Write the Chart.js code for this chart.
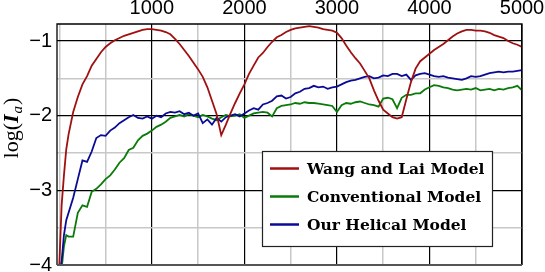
<!DOCTYPE html>
<html>
<head>
<meta charset="utf-8">
<script src="https://cdn.jsdelivr.net/npm/chart.js@4"></script>
<style>
    html, body { margin:0; padding:0; background:#fff; }
    #wrap { width:545px; height:272px; position:relative; }
</style>
</head>
<body>
<div id="wrap"><canvas id="chartIa"></canvas></div>
<script>

/* ---------- data ---------- */

const xValues = [
    0, 25, 50, 75, 100,
    150, 200, 250, 300, 350, 400, 450, 500, 550, 600,
    650, 700, 750, 800, 850, 900, 950, 1000, 1050, 1100,
    1150, 1200, 1250, 1300, 1350, 1400, 1450, 1500, 1550, 1600,
    1650, 1700, 1750, 1800, 1850, 1900, 1950, 2000, 2050, 2100,
    2150, 2200, 2250, 2300, 2350, 2400, 2450, 2500, 2550, 2600,
    2650, 2700, 2750, 2800, 2850, 2900, 2950, 3000, 3050, 3100,
    3150, 3200, 3250, 3300, 3350, 3400, 3450, 3500, 3550, 3600,
    3650, 3700, 3750, 3800, 3850, 3900, 3950, 4000, 4050, 4100,
    4150, 4200, 4250, 4300, 4350, 4400, 4450, 4500, 4550, 4600,
    4650, 4700, 4750, 4800, 4850, 4900, 4950, 5000
];

const wangLai = [
    -4.0, -3.2, -2.8, -2.45, -2.25,
    -1.95, -1.75, -1.58, -1.47, -1.33, -1.24, -1.15, -1.08, -1.03, -0.99,
    -0.96, -0.93, -0.91, -0.89, -0.87, -0.85, -0.84, -0.84, -0.85, -0.86,
    -0.88, -0.91, -0.97, -1.04, -1.12, -1.20, -1.29, -1.38, -1.48, -1.62,
    -1.80, -1.98, -2.26, -2.12, -1.97, -1.83, -1.70, -1.58, -1.44, -1.33,
    -1.22, -1.16, -1.08, -1.01, -0.95, -0.92, -0.88, -0.85, -0.83, -0.82,
    -0.81, -0.80, -0.81, -0.82, -0.84, -0.85, -0.86, -0.89, -0.96, -1.06,
    -1.15, -1.23, -1.30, -1.40, -1.50, -1.66, -1.80, -1.92, -1.97, -2.02,
    -2.04, -2.02, -1.78, -1.55, -1.37, -1.27, -1.22, -1.17, -1.12, -1.08,
    -1.04, -0.99, -0.94, -0.90, -0.87, -0.85, -0.85, -0.86, -0.86, -0.87,
    -0.89, -0.92, -0.94, -0.96, -1.00, -1.03, -1.05, -1.08
];

const conventional = [
    -4.1, -4.05, -3.75, -3.6, -3.62,
    -3.62, -3.3, -3.2, -3.22, -3.02, -2.98, -2.92, -2.85, -2.8, -2.72,
    -2.63, -2.57, -2.46, -2.43, -2.33, -2.27, -2.24, -2.2, -2.15, -2.12,
    -2.08, -2.03, -2.01, -1.99, -2.01, -1.98, -2.0, -2.02, -1.99, -2.01,
    -2.04, -2.06, -2.02, -1.99, -2.01, -2.0, -1.98, -2.03, -2.0, -1.97,
    -1.96, -1.95, -1.96, -2.01, -1.9, -1.87, -1.86, -1.85, -1.83, -1.84,
    -1.82, -1.83, -1.83, -1.84, -1.85, -1.86, -1.87, -1.95, -1.86, -1.83,
    -1.84, -1.82, -1.81, -1.83, -1.85, -1.86, -1.88, -1.77, -1.76, -1.78,
    -1.9, -1.76, -1.72, -1.72, -1.7, -1.7, -1.65, -1.62, -1.59, -1.6,
    -1.62, -1.63, -1.65, -1.66, -1.65, -1.64, -1.65, -1.63, -1.66, -1.65,
    -1.64, -1.66, -1.64, -1.65, -1.63, -1.62, -1.6, -1.66
];

const helical = [
    -4.1, -3.95, -3.6, -3.4, -3.3,
    -3.1, -2.85, -2.6, -2.62, -2.48, -2.3, -2.26, -2.27, -2.2, -2.16,
    -2.1, -2.06, -2.02, -1.99, -2.03, -2.04, -2.01, -2.04, -2.0, -2.02,
    -1.97, -1.95, -1.96, -1.94, -1.98, -1.96, -2.0, -1.97, -2.1, -2.05,
    -2.12, -2.03, -2.08, -2.02, -2.0, -1.98, -2.01, -1.97, -1.93, -1.9,
    -1.92, -1.85, -1.83, -1.8, -1.74, -1.73, -1.77, -1.75, -1.7, -1.68,
    -1.64, -1.63, -1.6, -1.62, -1.61, -1.64, -1.62, -1.61, -1.58, -1.55,
    -1.53, -1.52, -1.5, -1.48, -1.47, -1.5, -1.49, -1.46, -1.47, -1.44,
    -1.44, -1.47, -1.45, -1.52, -1.46, -1.44, -1.43, -1.45, -1.47, -1.48,
    -1.47, -1.49, -1.5, -1.51, -1.52, -1.5, -1.47, -1.48, -1.47, -1.45,
    -1.43, -1.42, -1.41, -1.42, -1.41, -1.41, -1.4, -1.39
];

const xTicks = [0, 500, 1000, 1500, 2000, 2500, 3000, 3500, 4000, 4500, 5000];
const xTickLabels = ["", "", "1000", "", "2000", "", "3000", "", "4000", "", "5000"];
const yTicks = [-4, -3.5, -3, -2.5, -2, -1.5, -1];
const yTickLabels = ["\u22124", "", "\u22123", "", "\u22122", "", "\u22121"];

const seriesLabels = ["Wang and Lai Model", "Conventional Model", "Our Helical Model"];
const seriesColors = ["#A01010", "#0A7A0A", "#0A0A96"];

/* ---------- helpers ---------- */

function toPoints(ys) {
    return xValues.map((x, i) => ({ x: x, y: ys[i] }));
}

function isMajor(list, labels, v) {
    const i = list.indexOf(v);
    return i >= 0 && labels[i] !== "";
}

/* y axis title, drawn by hand so it can sit where the figure has it */
const yTitlePlugin = {
    id: "yTitle",
    afterDraw(chart) {
        const c = chart.ctx;
        c.save();
        c.translate(18, 128);
        c.rotate(-Math.PI / 2);
        c.fillStyle = "#000";
        c.textBaseline = "alphabetic";
        c.font = "22px 'Liberation Serif'";
        const w1 = c.measureText("log(").width;
        c.font = "bold italic 22px 'Liberation Serif'";
        const w2 = c.measureText("I").width + 1;
        c.font = "italic 15px 'Liberation Serif'";
        const w3 = c.measureText("a").width + 1;
        c.font = "22px 'Liberation Serif'";
        const w4 = c.measureText(")").width;
        let x = -(w1 + w2 + w3 + w4) / 2;
        c.font = "22px 'Liberation Serif'";
        c.fillText("log(", x, 0); x += w1;
        c.font = "bold italic 22px 'Liberation Serif'";
        c.fillText("I", x, 0); x += w2;
        c.font = "italic 15px 'Liberation Serif'";
        c.fillText("a", x, 4); x += w3;
        c.font = "22px 'Liberation Serif'";
        c.fillText(")", x, 0);
        c.restore();
    }
};

/* plot frame and legend box */
const framePlugin = {
    id: "frame",
    afterDatasetsDraw(chart) {
        const c = chart.ctx;
        const a = chart.chartArea;
        c.save();
        c.strokeStyle = "#000";
        c.lineWidth = 1.3;
        c.beginPath();
        c.moveTo(a.left, a.bottom);
        c.lineTo(a.left, a.top);
        c.lineTo(a.right, a.top);
        c.lineTo(a.right, a.bottom);
        c.stroke();
        c.strokeStyle = "#555";
        c.lineWidth = 2;
        c.beginPath();
        c.moveTo(a.left, a.bottom);
        c.lineTo(a.right, a.bottom);
        c.stroke();

        // legend
        const bx = 262.5, by = 151.5, bw = 230, bh = 95;
        c.fillStyle = "#fff";
        c.fillRect(bx, by, bw, bh);
        c.strokeStyle = "#222";
        c.lineWidth = 1.2;
        c.strokeRect(bx, by, bw, bh);
        const rows = [168.5, 196.5, 224.5];
        c.font = "bold 15.5px 'DejaVu Serif'";
        c.textBaseline = "middle";
        rows.forEach((y, i) => {
            c.strokeStyle = seriesColors[i];
            c.lineWidth = 2.5;
            c.beginPath();
            c.moveTo(270, y);
            c.lineTo(299, y);
            c.stroke();
            c.fillStyle = "#000";
            c.fillText(seriesLabels[i], 307, y + 1);
        });
        c.restore();
    }
};

/* ---------- chart ---------- */

const ctx = document.getElementById("chartIa").getContext("2d");

new Chart(ctx, {
    type: "line",
    data: {
        datasets: [
            { label: seriesLabels[0], data: toPoints(wangLai), borderColor: seriesColors[0], order: 0 },
            { label: seriesLabels[1], data: toPoints(conventional), borderColor: seriesColors[1], order: 2 },
            { label: seriesLabels[2], data: toPoints(helical), borderColor: seriesColors[2], order: 1 }
        ]
    },
    options: {
        responsive: true,
        maintainAspectRatio: false,
        animation: false,
        layout: { padding: { left: 0, right: 23, top: 0, bottom: 7 } },
        elements: {
            line: { borderWidth: 1.8, tension: 0, fill: false },
            point: { radius: 0 }
        },
        plugins: {
            legend: { display: false },
            tooltip: { enabled: false }
        },
        scales: {
            x: {
                type: "linear",
                position: "top",
                min: -25,
                max: 5000,
                afterFit(s) {
                    s.height = 24;
                    s.paddingLeft = 0;
                    s.paddingRight = 0;
                },
                afterBuildTicks(s) { s.ticks = xTicks.map(v => ({ value: v })); },
                ticks: {
                    autoSkip: false,
                    maxRotation: 0,
                    padding: 4,
                    color: "#000",
                    font: { family: "'Liberation Sans'", size: 20 },
                    callback: v => xTickLabels[xTicks.indexOf(v)] || ""
                },
                grid: {
                    drawTicks: false,
                    color: c => (c.tick && isMajor(xTicks, xTickLabels, c.tick.value)) ? "#000" : "#c8c8c8",
                    lineWidth: c => (c.tick && isMajor(xTicks, xTickLabels, c.tick.value)) ? 1.2 : 1.5
                },
                border: { display: false }
            },
            y: {
                min: -4,
                max: -0.772,
                afterFit(s) {
                    s.width = 57;
                    s.paddingTop = 0;
                    s.paddingBottom = 0;
                },
                afterBuildTicks(s) { s.ticks = yTicks.map(v => ({ value: v })); },
                ticks: {
                    autoSkip: false,
                    padding: 5,
                    color: "#000",
                    font: { family: "'Liberation Sans'", size: 20 },
                    callback: v => yTickLabels[yTicks.indexOf(v)] || ""
                },
                grid: {
                    drawTicks: false,
                    color: c => (c.tick && isMajor(yTicks, yTickLabels, c.tick.value)) ? "#000" : "#c8c8c8",
                    lineWidth: c => (c.tick && isMajor(yTicks, yTickLabels, c.tick.value)) ? 1.2 : 1.5
                },
                border: { display: false }
            }
        }
    },
    plugins: [yTitlePlugin, framePlugin]
});

</script>
</body>
</html>
